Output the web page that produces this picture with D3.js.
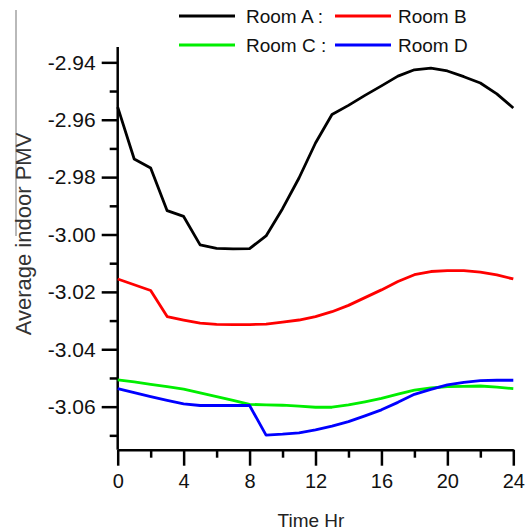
<!DOCTYPE html>
<html>
<head>
<meta charset="utf-8">
<script src="https://cdn.jsdelivr.net/npm/d3@7"></script>
<style>
  body { margin: 0; background: #fff; }
  svg { display: block; font-family: "Liberation Sans", Arial, sans-serif; }
  .axis path, .axis line { stroke: #000; stroke-width: 2.5; }
  .axis text { fill: #111; }
  .series { fill: none; stroke-width: 2.8; stroke-linejoin: round; }
</style>
</head>
<body>
<div id="chart"></div>
<script>
// hourly values
const hours = d3.range(0, 25);
const roomA = [-2.9556, -2.9737, -2.9768, -2.9917, -2.9937, -3.0036, -3.0048, -3.0050, -3.0049, -3.0005,
  -2.9910, -2.9803, -2.9681, -2.9582, -2.9550, -2.9515, -2.9482, -2.9448, -2.9426, -2.9420,
  -2.9430, -2.9450, -2.9472, -2.9510, -2.9559];
const roomB = [-3.0155, -3.0175, -3.0195, -3.0286, -3.0298, -3.0309, -3.0313, -3.0314, -3.0314, -3.0312,
  -3.0305, -3.0298, -3.0286, -3.0269, -3.0247, -3.0220, -3.0193, -3.0164, -3.0140, -3.0129,
  -3.0126, -3.0126, -3.0131, -3.0141, -3.0155];
const roomC = [-3.0507, -3.0514, -3.0522, -3.0530, -3.0539, -3.0552, -3.0565, -3.0578, -3.0592, -3.0594,
  -3.0595, -3.0598, -3.0602, -3.0602, -3.0594, -3.0583, -3.0571, -3.0556, -3.0542, -3.0535,
  -3.0530, -3.0529, -3.0528, -3.0532, -3.0537];
const roomD = [-3.0537, -3.0551, -3.0565, -3.0578, -3.0590, -3.0596, -3.0596, -3.0596, -3.0596, -3.0699,
  -3.0696, -3.0691, -3.0681, -3.0668, -3.0652, -3.0632, -3.0611, -3.0585, -3.0557, -3.0540,
  -3.0524, -3.0515, -3.0509, -3.0508, -3.0508];

const seriesNames = ["Room A :", "Room B", "Room C :", "Room D"];
const seriesColors = ["#000000", "#ff0000", "#00ee00", "#0000ff"];
const seriesValues = [roomA, roomB, roomC, roomD];

const xTicks = [0, 4, 8, 12, 16, 20, 24];
const xMinor = [2, 6, 10, 14, 18, 22];
const yTicks = [-3.06, -3.04, -3.02, -3.00, -2.98, -2.96, -2.94];
const yMinor = [-3.07, -3.05, -3.03, -3.01, -2.99, -2.97, -2.95];

const width = 532, height = 530;

const svg = d3.select("#chart").append("svg")
  .attr("width", width)
  .attr("height", height);

const x = d3.scaleLinear().domain([0, 24]).range([117.7, 513.3]);
const y = d3.scaleLinear().domain([-3.075, -2.935]).range([449.7, 48]);

// stray grey rule at far left of the scan
svg.append("line")
  .attr("x1", 16).attr("x2", 16)
  .attr("y1", 10).attr("y2", 236)
  .attr("stroke", "#8a8a8a").attr("stroke-width", 1.2);

// minor ticks first
svg.append("g")
  .attr("class", "axis")
  .attr("transform", `translate(0,${y.range()[0]})`)
  .call(d3.axisBottom(x).tickValues(xMinor).tickSize(8).tickSizeOuter(0).tickFormat(""))
  .call(g => g.select(".domain").remove());

svg.append("g")
  .attr("class", "axis")
  .attr("transform", `translate(${x.range()[0]},0)`)
  .call(d3.axisLeft(y).tickValues(yMinor).tickSize(8).tickSizeOuter(0).tickFormat(""))
  .call(g => g.select(".domain").remove());

// major axes
const xAxis = svg.append("g")
  .attr("class", "axis")
  .attr("transform", `translate(0,${y.range()[0]})`)
  .call(d3.axisBottom(x).tickValues(xTicks).tickSize(16).tickSizeOuter(0).tickPadding(8));
xAxis.selectAll("text").style("font-size", "20px");

const yAxis = svg.append("g")
  .attr("class", "axis")
  .attr("transform", `translate(${x.range()[0]},0)`)
  .call(d3.axisLeft(y).tickValues(yTicks).tickSize(16).tickSizeOuter(0).tickPadding(6)
    .tickFormat(d => d.toFixed(2)));
yAxis.selectAll("text").style("font-size", "21px");
yAxis.select(".domain").attr("d", `M0,${y.range()[1] - 1}V${y.range()[0]}`);

// lines
const line = d3.line()
  .x((d, i) => x(hours[i]))
  .y(d => y(d));

svg.selectAll(".series")
  .data(seriesValues)
  .join("path")
  .attr("class", "series")
  .attr("stroke", (d, i) => seriesColors[i])
  .attr("d", line);

// axis titles
svg.append("text")
  .attr("x", 311)
  .attr("y", 527)
  .attr("text-anchor", "middle")
  .style("font-size", "19px")
  .attr("fill", "#222")
  .text("Time Hr");

svg.append("text")
  .attr("transform", "translate(31,234) rotate(-90)")
  .attr("text-anchor", "middle")
  .style("font-size", "22px")
  .attr("fill", "#333")
  .text("Average indoor PMV");

// legend, two rows of two
const legend = svg.append("g")
  .selectAll("g")
  .data(seriesNames)
  .join("g")
  .attr("transform", (d, i) => `translate(${i % 2 === 0 ? 179 : 335},${i < 2 ? 16 : 45})`);

legend.append("line")
  .attr("x1", 0).attr("x2", 56)
  .attr("stroke", (d, i) => seriesColors[i])
  .attr("stroke-width", 2.8);

legend.append("text")
  .attr("x", (d, i) => i % 2 === 0 ? 67 : 63)
  .attr("y", 7)
  .style("font-size", "19px")
  .attr("fill", "#111")
  .text(d => d);
</script>
</body>
</html>
